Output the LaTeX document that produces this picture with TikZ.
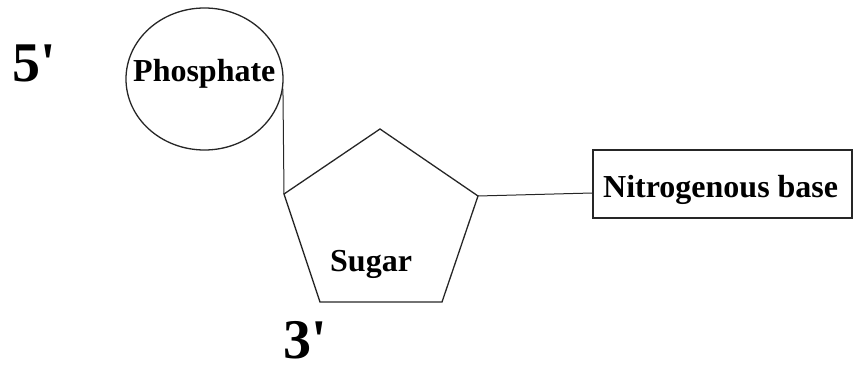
\documentclass[tikz,border=0pt]{standalone}
\usepackage{fontspec}
\setmainfont{Liberation Serif}
\usepackage{tikz}
\usetikzlibrary{shapes.geometric}

\tikzset{
	part/.style={draw=black!85,line width=1.3pt},
	lbl/.style={font=\fontsize{32}{36}\selectfont\bfseries,inner sep=0pt},
	endlbl/.style={font=\fontsize{56}{60}\selectfont\bfseries,inner sep=0pt}
}

\begin{document}
\begin{tikzpicture}[x=1pt,y=-1pt]
			\useasboundingbox (0,0) rectangle (854,371);
			\node[part,ellipse,minimum width=157,minimum height=142,inner sep=0pt] (phos) at (204.5,79) {};
			\coordinate (top) at (380,129);
			\coordinate (right) at (478,196);
			\coordinate (br) at (442,302);
			\coordinate (bl) at (320,302);
			\coordinate (left) at (284,194);
			\draw[part,line join=miter] (top) -- (right) -- (br) -- (bl) -- (left) -- cycle;
			\node[part,minimum width=259,minimum height=68,inner sep=0pt] (base) at (722.5,184) {};
			\draw[part,line width=1pt] (phos.-7) -- (left);
			\draw[part,line width=1pt] (right) -- ([yshift=-9pt]base.west);
			\node[lbl,anchor=base west] (phostxt) at (133,82) {Phosphate};
			\node[lbl,anchor=base west] (sugtxt) at (330,272) {Sugar};
			\node[lbl,anchor=base west] (basetxt) at (603,198) {Nitrogenous base};
			\node[endlbl,anchor=base west] (five) at (12,82) {5\textquotesingle};
			\node[endlbl,anchor=base west] (three) at (283,358) {3\textquotesingle};
		\end{tikzpicture}
\end{document}
